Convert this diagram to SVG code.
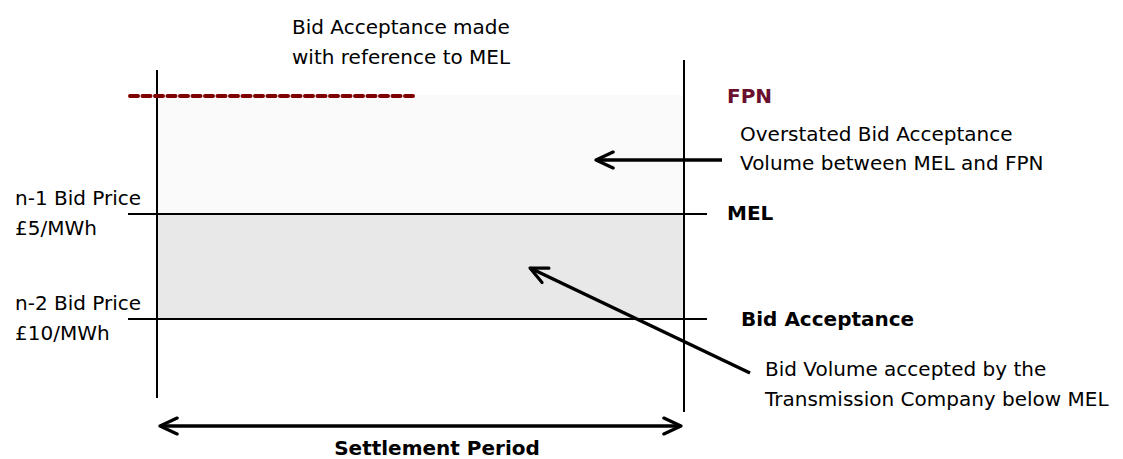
<svg xmlns="http://www.w3.org/2000/svg" width="1123" height="459" viewBox="0 0 1123 459">
<style>
text{font-family:"DejaVu Sans","Verdana",sans-serif;font-size:20px;fill:#000}
.b{font-weight:bold}
.ln{stroke:#000;stroke-width:2;fill:none}
.ar{stroke:#000;stroke-width:3.5;fill:none}
</style>
<defs>
<marker id="ah" viewBox="0 0 20 20" refX="18" refY="10" markerWidth="7" markerHeight="7" orient="auto-start-reverse" markerUnits="strokeWidth">
<path d="M4,3.5 L18,10 L4,16.5" fill="none" stroke="#000" stroke-width="2.6" stroke-linecap="round" stroke-linejoin="round"/>
</marker>
</defs>
<g id="regions">
<rect x="157" y="95" width="527" height="119" fill="#fafafa"/>
<rect x="157" y="214" width="527" height="105" fill="#e8e8e8"/>
</g>
<g id="axes">
<line class="ln" x1="157" y1="70" x2="157" y2="398"/>
<line class="ln" x1="684" y1="60" x2="684" y2="412"/>
<line class="ln" x1="128" y1="214" x2="707" y2="214"/>
<line class="ln" x1="128" y1="319" x2="707" y2="319"/>
<line x1="130" y1="96" x2="415" y2="96" stroke="#800000" stroke-width="4" stroke-dasharray="8,4.5" stroke-linecap="round"/>
</g>
<g id="connectors">
<line class="ar" x1="722" y1="160" x2="596" y2="160" marker-end="url(#ah)"/>
<line class="ar" x1="750" y1="373" x2="530" y2="268" marker-end="url(#ah)"/>
<line class="ar" x1="160" y1="426" x2="681" y2="426" marker-start="url(#ah)" marker-end="url(#ah)"/>
</g>
<g id="labels">
<text x="292" y="34">Bid Acceptance made</text>
<text x="292" y="64">with reference to MEL</text>
<text x="727" y="103" class="b" style="fill:#6b0f2e">FPN</text>
<text x="740" y="141">Overstated Bid Acceptance</text>
<text x="740" y="170">Volume between MEL and FPN</text>
<text x="15" y="205">n-1 Bid Price</text>
<text x="15" y="235">£5/MWh</text>
<text x="15" y="310">n-2 Bid Price</text>
<text x="15" y="340">£10/MWh</text>
<text x="727" y="220" class="b">MEL</text>
<text x="741" y="326" class="b">Bid Acceptance</text>
<text x="765" y="376">Bid Volume accepted by the</text>
<text x="765" y="406">Transmission Company below MEL</text>
<text x="437" y="455" class="b" text-anchor="middle">Settlement Period</text>
</g>
</svg>
